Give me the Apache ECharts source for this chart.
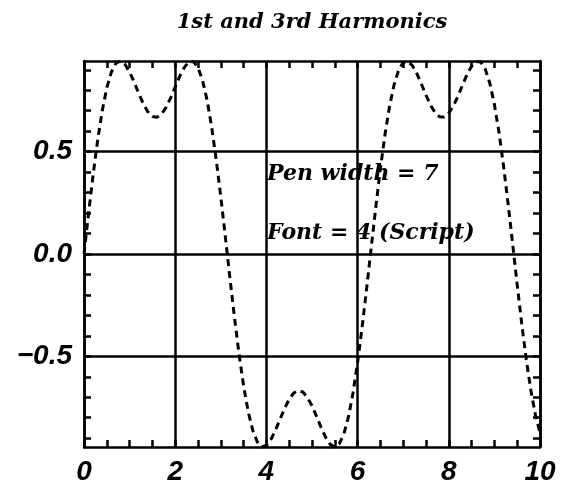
<!DOCTYPE html>
<html>
<head>
<meta charset="utf-8">
<script src="https://cdn.jsdelivr.net/npm/echarts@6/dist/echarts.min.js"></script>
<style>
  html, body { margin: 0; padding: 0; background: #fff; }
  #chart { width: 565px; height: 493px; }
</style>
</head>
<body>
<div id="chart"></div>
<script>
// Sum of the first and third harmonics, sampled every 0.1 on [0, 10]
const xValues = [
  0.0, 0.1, 0.2, 0.3, 0.4, 0.5, 0.6, 0.7, 0.8, 0.9,
  1.0, 1.1, 1.2, 1.3, 1.4, 1.5, 1.6, 1.7, 1.8, 1.9,
  2.0, 2.1, 2.2, 2.3, 2.4, 2.5, 2.6, 2.7, 2.8, 2.9,
  3.0, 3.1, 3.2, 3.3, 3.4, 3.5, 3.6, 3.7, 3.8, 3.9,
  4.0, 4.1, 4.2, 4.3, 4.4, 4.5, 4.6, 4.7, 4.8, 4.9,
  5.0, 5.1, 5.2, 5.3, 5.4, 5.5, 5.6, 5.7, 5.8, 5.9,
  6.0, 6.1, 6.2, 6.3, 6.4, 6.5, 6.6, 6.7, 6.8, 6.9,
  7.0, 7.1, 7.2, 7.3, 7.4, 7.5, 7.6, 7.7, 7.8, 7.9,
  8.0, 8.1, 8.2, 8.3, 8.4, 8.5, 8.6, 8.7, 8.8, 8.9,
  9.0, 9.1, 9.2, 9.3, 9.4, 9.5, 9.6, 9.7, 9.8, 9.9,
  10.0
];
const harmonics = [
  0.000, 0.198, 0.387, 0.557, 0.700, 0.812, 0.889, 0.932, 0.943, 0.926,
  0.889, 0.839, 0.785, 0.734, 0.695, 0.672, 0.668, 0.683, 0.716, 0.763,
  0.816, 0.869, 0.912, 0.939, 0.940, 0.911, 0.848, 0.751, 0.620, 0.460,
  0.279, 0.083, -0.117, -0.310, -0.489, -0.644, -0.770, -0.861, -0.918, -0.942,
  -0.936, -0.906, -0.860, -0.807, -0.754, -0.710, -0.679, -0.667, -0.674, -0.701,
  -0.742, -0.793, -0.848, -0.896, -0.930, -0.943, -0.927, -0.879, -0.795, -0.678,
  -0.530, -0.356, -0.165, 0.034, 0.231, 0.417, 0.583, 0.721, 0.827, 0.899,
  0.936, 0.941, 0.921, 0.881, 0.830, 0.776, 0.727, 0.690, 0.670, 0.669,
  0.688, 0.723, 0.771, 0.825, 0.877, 0.918, 0.941, 0.938, 0.903, 0.834,
  0.731, 0.595, 0.431, 0.246, 0.050, -0.150, -0.342, -0.517, -0.667, -0.787,
  -0.873
];

// Axis ranges and tick positions
const xRange = [0, 10];
const xStep = 2;
const yRange = [-0.943, 0.943];
const yLabelValues = [-0.5, 0.0, 0.5];
const yMinorTickValues = [-0.9, -0.8, -0.7, -0.6, -0.5, -0.4, -0.3, -0.2, -0.1, 0.0,
                          0.1, 0.2, 0.3, 0.4, 0.5, 0.6, 0.7, 0.8, 0.9];

const titleText = '1st and 3rd Harmonics';
const noteLines = ['Pen width = 7', 'Font = 4 (Script)'];

const INK = '#000';
const scriptFont = '"DejaVu Serif", serif';
const labelFont = '"Liberation Sans", Arial, sans-serif';

const chart = echarts.init(document.getElementById('chart'), null, { renderer: 'canvas' });

const axisLineStyle = { show: true, onZero: false, lineStyle: { color: INK, width: 2.5 } };
const tickStyle = { color: INK, width: 2.5 };
const tickLabel = {
  color: INK, fontFamily: labelFont, fontStyle: 'italic', fontWeight: 'bold', fontSize: 28
};

const option = {
  backgroundColor: '#fff',
  animation: false,
  grid: { left: 84, right: 25, top: 61, bottom: 46, containLabel: false },
  xAxis: [
    {
      type: 'value', position: 'bottom',
      min: xRange[0], max: xRange[1], interval: xStep,
      axisLine: axisLineStyle,
      axisTick: { show: true, inside: true, length: 7, lineStyle: tickStyle },
      minorTick: { show: true, splitNumber: 4, length: 7, lineStyle: tickStyle },
      splitLine: { show: true, lineStyle: { color: INK, width: 2.5 } },
      axisLabel: Object.assign({ margin: 11, formatter: v => String(v) }, tickLabel)
    },
    {
      type: 'value', position: 'top',
      min: xRange[0], max: xRange[1], interval: xStep,
      axisLine: axisLineStyle,
      axisTick: { show: true, inside: true, length: 7, lineStyle: tickStyle },
      minorTick: { show: true, splitNumber: 4, length: 7, lineStyle: tickStyle },
      splitLine: { show: false },
      axisLabel: { show: false }
    }
  ],
  yAxis: [
    {
      type: 'value', position: 'left',
      min: yRange[0], max: yRange[1],
      axisLine: axisLineStyle,
      axisTick: { show: true, inside: true, length: 7, lineStyle: tickStyle, customValues: yMinorTickValues },
      splitLine: { show: false },
      axisLabel: Object.assign({
        margin: 12,
        customValues: yLabelValues,
        formatter: v => (v < 0 ? '\u2212' : '') + Math.abs(v).toFixed(1)
      }, tickLabel)
    },
    {
      type: 'value', position: 'right',
      min: yRange[0], max: yRange[1],
      axisLine: axisLineStyle,
      axisTick: { show: true, inside: true, length: 7, lineStyle: tickStyle, customValues: yMinorTickValues },
      splitLine: { show: false },
      axisLabel: { show: false }
    }
  ],
  series: [
    {
      type: 'line',
      xAxisIndex: 0, yAxisIndex: 0,
      data: xValues.map((x, i) => [x, harmonics[i]]),
      showSymbol: false,
      smooth: false,
      clip: true,
      lineStyle: { color: INK, width: 3, type: [7, 5] },
      markLine: {
        silent: true,
        symbol: ['none', 'none'],
        label: { show: false },
        lineStyle: { color: INK, width: 2.5, type: 'solid' },
        data: yLabelValues.map(v => ({ yAxis: v }))
      },
      z: 3
    }
  ],
  graphic: [
    {
      type: 'text', x: 312, y: 23,
      style: { text: titleText, fill: INK, font: 'italic bold 21px ' + scriptFont, align: 'center', verticalAlign: 'middle' }
    },
    {
      type: 'text', x: 267, y: 174,
      style: { text: noteLines[0], fill: INK, font: 'italic bold 22px ' + scriptFont, verticalAlign: 'middle' }
    },
    {
      type: 'text', x: 267, y: 233,
      style: { text: noteLines[1], fill: INK, font: 'italic bold 22px ' + scriptFont, verticalAlign: 'middle' }
    }
  ]
};

chart.setOption(option);
</script>
</body>
</html>
